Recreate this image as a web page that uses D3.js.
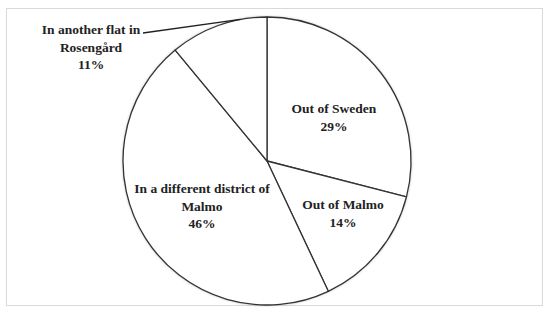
<!DOCTYPE html>
<html><head><meta charset="utf-8">
<script src="https://cdn.jsdelivr.net/npm/d3@7"></script>
<style>body{margin:0;background:#fff}svg{display:block}
.lbl{font-family:"Liberation Serif","Times New Roman",serif;font-weight:bold;font-size:13.5px;fill:#222}</style>
</head><body>
<svg id="c" width="550" height="314"></svg>
<script>
const categories = ["Out of Sweden", "Out of Malmo", "In a different district of Malmo", "In another flat in Rosengård"];
const values = [29, 14, 46, 11];
const labelLines = [["Out of Sweden"], ["Out of Malmo"], ["In a different district of", "Malmo"], ["In another flat in", "Rosengård"]];

const svg = d3.select("#c");
const cx = 267, cy = 161, r = 144;

const defs = svg.append("defs");
const f = defs.append("filter").attr("id","sh").attr("x","-10%").attr("y","-10%").attr("width","120%").attr("height","120%");
f.append("feDropShadow").attr("dx",0).attr("dy",0).attr("stdDeviation",1.6).attr("flood-color","#000").attr("flood-opacity",0.35);

svg.append("rect").attr("x",6.5).attr("y",8.5).attr("width",536).attr("height",297)
  .attr("fill","#fff").attr("stroke","#d9d9d9").attr("stroke-width",1);

const data = categories.map((c,i)=>({cat:c, value:values[i], lines:labelLines[i]}));
const pie = d3.pie().value(d=>d.value).sort(null);
const arcs = pie(data);
const arc = d3.arc().innerRadius(0).outerRadius(r);

const g = svg.append("g").attr("transform",`translate(${cx},${cy})`);
g.append("circle").attr("r",r).attr("fill","#fff").attr("filter","url(#sh)");
g.selectAll("path").data(arcs).join("path")
  .attr("d",arc).attr("fill","#fff").attr("stroke","#333").attr("stroke-width",1.3).attr("stroke-linejoin","round");

const lh = 17.5;
const pos = [
  [67, -48],   // Out of Sweden
  [76, 48],    // Out of Malmo
  [-65, 32],   // In a different district
  [-176, -127] // In another flat (outside)
];
arcs.forEach((a,i)=>{
  const d = a.data;
  const lines = d.lines.concat([d.value + "%"]);
  const t = g.append("text").attr("class","lbl").attr("text-anchor","middle");
  lines.forEach((ln,j)=>{
    t.append("tspan").attr("x",pos[i][0]).attr("y",pos[i][1] + j*lh).text(ln);
  });
});
const a3 = arcs[3];
const mid = (a3.startAngle + a3.endAngle)/2 + 0.16;
const ex = Math.sin(mid)*r, ey = -Math.cos(mid)*r;
g.append("path").attr("d", `M${-124},${-128}L${ex},${ey}`)
  .attr("fill","none").attr("stroke","#222").attr("stroke-width",1.3);
</script>
</body></html>
